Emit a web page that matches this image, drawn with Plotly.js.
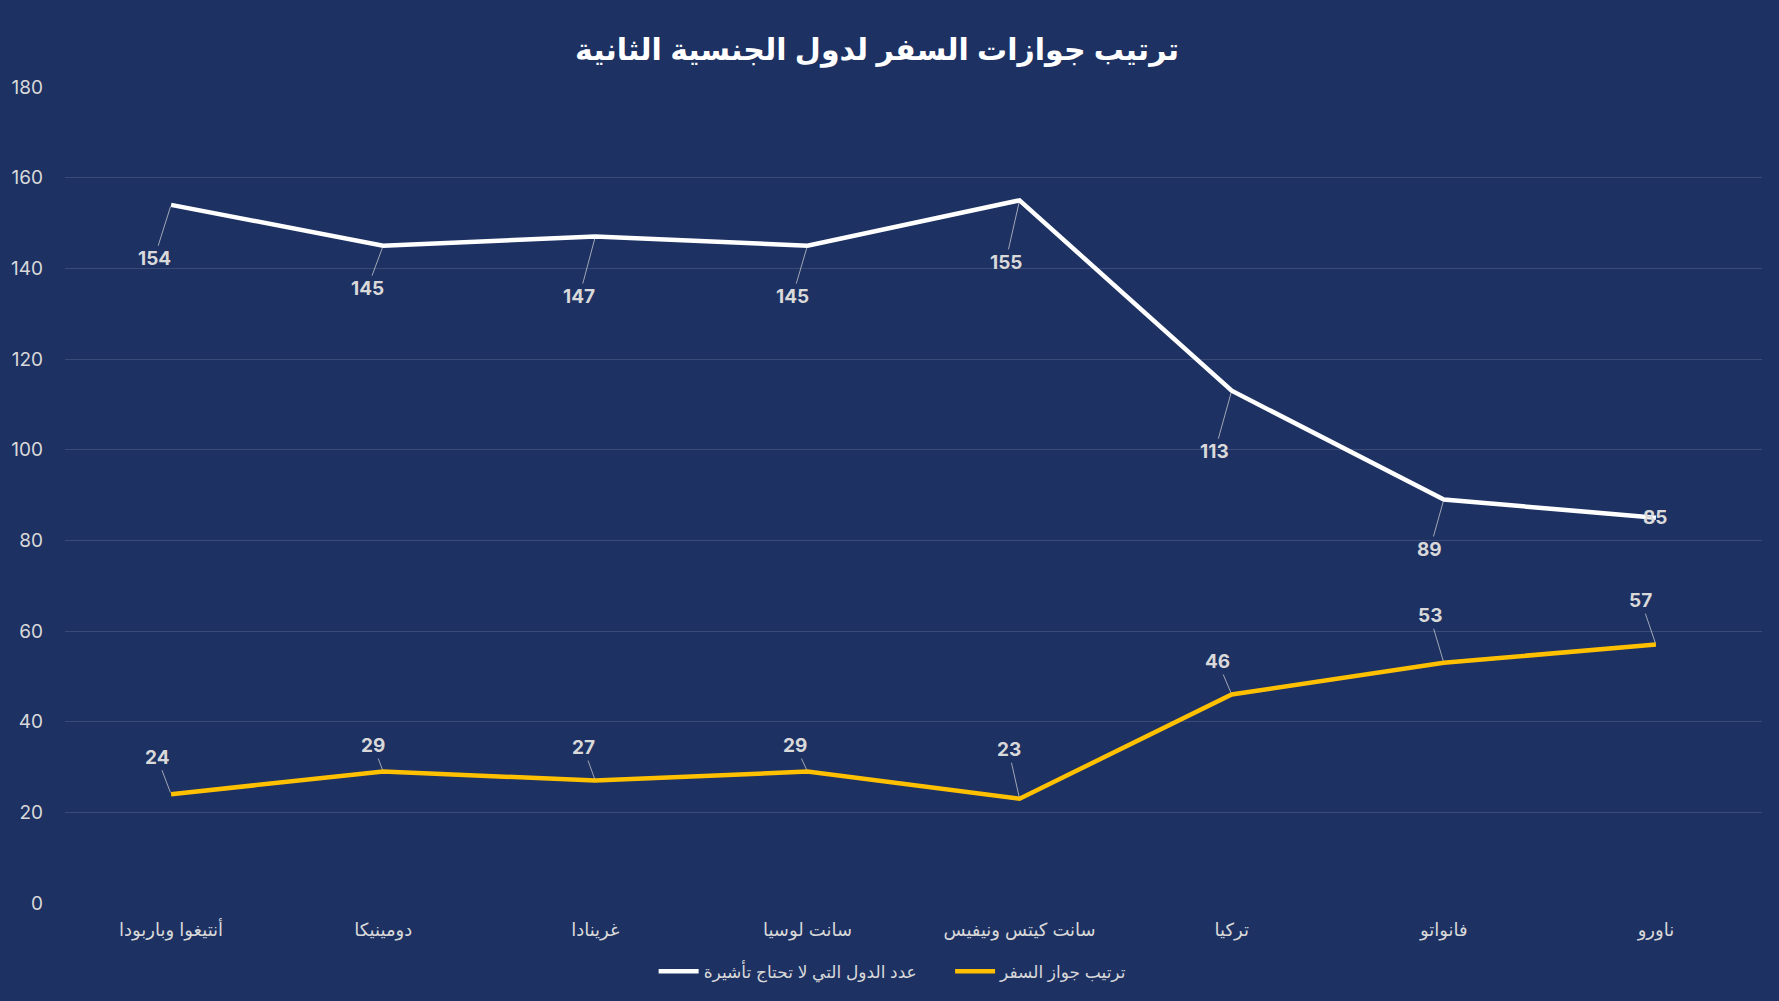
<!DOCTYPE html>
<html>
<head>
<meta charset="utf-8">
<script src="https://cdn.plot.ly/plotly-3.0.1.min.js"></script>
<style>
html,body{margin:0;padding:0;background:#1d3163;}
#chart{width:1779px;height:1001px;}
</style>
</head>
<body>
<div id="chart"></div>
<script>
// ---- data ----
var categories = ["أنتيغوا وباربودا","دومينيكا","غرينادا","سانت لوسيا","سانت كيتس ونيفيس","تركيا","فانواتو","ناورو"];
var visaFreeCount = [154,145,147,145,155,113,89,85];
var passportRank = [24,29,27,29,23,46,53,57];
var seriesNames = ["عدد الدول التي لا تحتاج تأشيرة","ترتيب جواز السفر"];
var yTicks = [0,20,40,60,80,100,120,140,160,180];
var chartTitle = "ترتيب جوازات السفر لدول الجنسية الثانية";

// ---- style / label placement (pixels) ----
var bg = "#1d3163";
var white = "#ffffff";
var gold = "#ffc000";
var labelColor = "#d9d9d9";
var arabicFont = "Liberation Sans, Arial, DejaVu Sans, sans-serif";
var numFont = "Inter, Roboto, sans-serif";
var whiteLabelDx = [-17,-16,-16,-15,-14,-17,-14,0];
var whiteLabelDy = [54,43,60,51,62,61,50,0];
var goldLabelDx = [-14,-10,-12,-12,-11,-14,-14,-15];
var goldLabelDy = [-37,-26,-33,-26,-49,-33,-47,-44];
var legendPad = "\u00a0\u00a0\u00a0\u00a0\u00a0\u00a0";

var traces = [
  {x: categories, y: visaFreeCount, name: seriesNames[0] + legendPad, type: "scatter", mode: "lines",
   line: {color: white, width: 4.5}, hoverinfo: "y"},
  {x: categories, y: passportRank, name: seriesNames[1], type: "scatter", mode: "lines",
   line: {color: gold, width: 4.5}, hoverinfo: "y"}
];

var annotations = [];
function addLabels(vals, dxs, dys) {
  vals.forEach(function(v, i) {
    var overlap = dxs[i] === 0 && dys[i] === 0;
    annotations.push({
      x: categories[i], y: v, xref: "x", yref: "y",
      text: "<b>" + v + "</b>",
      showarrow: !overlap, arrowhead: 0, arrowwidth: 1, arrowcolor: "rgba(217,217,217,0.7)",
      ax: dxs[i], ay: dys[i], standoff: 2,
      font: {family: numFont, size: 19, color: labelColor}
    });
  });
}
addLabels(visaFreeCount, whiteLabelDx, whiteLabelDy);
addLabels(passportRank, goldLabelDx, goldLabelDy);

var layout = {
  width: 1779, height: 1001,
  paper_bgcolor: bg, plot_bgcolor: bg,
  margin: {l: 65, r: 17, t: 87, b: 97},
  title: {text: "<b>" + chartTitle + "</b>", x: 0.493, xanchor: "center", y: 0.951, yanchor: "middle",
          font: {family: arabicFont, size: 30, color: white}},
  xaxis: {type: "category", range: [-0.5, 7.5], showgrid: false, zeroline: false, showline: false,
          ticks: "", ticklabelstandoff: 14,
          tickfont: {family: arabicFont, size: 18, color: labelColor}},
  yaxis: {range: [0, 180], tickvals: yTicks, ticktext: yTicks.map(String),
          showgrid: true, gridcolor: "rgba(255,255,255,0.13)", gridwidth: 1,
          zeroline: false, showline: false, ticks: "", ticklabelstandoff: 21,
          tickfont: {family: numFont, size: 19, color: labelColor}},
  showlegend: true,
  legend: {orientation: "h", x: 0.488, xanchor: "center", y: -0.083, yanchor: "middle",
           font: {family: arabicFont, size: 17, color: labelColor}, itemwidth: 40},
  annotations: annotations
};

Plotly.newPlot("chart", traces, layout, {displayModeBar: false, staticPlot: true});
</script>
</body>
</html>
